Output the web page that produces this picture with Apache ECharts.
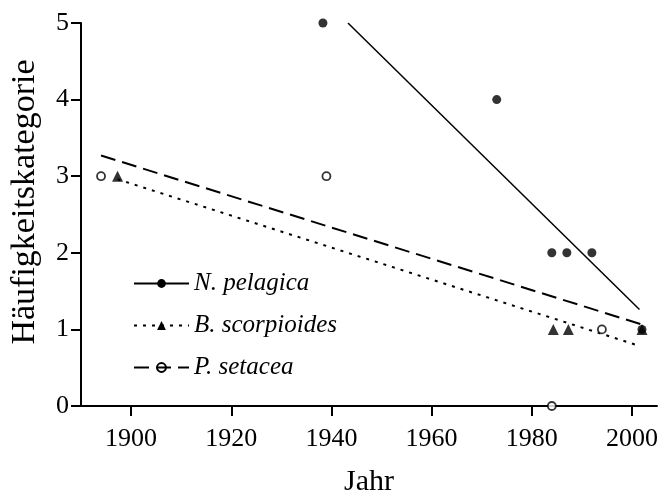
<!DOCTYPE html>
<html><head><meta charset="utf-8">
<script src="https://cdn.jsdelivr.net/npm/echarts@6/dist/echarts.min.js"></script>
<style>html,body{margin:0;padding:0;background:#fff}#c{width:661px;height:495px}</style>
</head><body><div id="c"></div>
<script>
// ---- data ----
const xTicks = [1900, 1920, 1940, 1960, 1980, 2000];
const yTicks = [0, 1, 2, 3, 4, 5];
const speciesNames = ['N. pelagica', 'B. scorpioides', 'P. setacea'];
// observations [year, category]
const nPelagica = [[1938.3, 5], [1973, 4], [1984, 2], [1987, 2], [1992, 2], [2002, 1]];
const bScorpioides = [[1897.3, 3], [1984.3, 1], [1987.3, 1], [2002, 1]];
const pSetacea = [[1894, 3], [1939, 3], [1984, 0], [1994, 1]];
// fitted trend line end points [year, category]
const nTrend = [[1943.3, 5.0], [2001.5, 1.26]];
const bTrend = [[1897.3, 2.96], [2001.7, 0.78]];
const pTrend = [[1894, 3.27], [2001.7, 1.07]];
const xTitle = 'Jahr';
const yTitle = 'Häufigkeitskategorie';

const FONT = '"Liberation Serif", "Times New Roman", serif';
const chart = echarts.init(document.getElementById('c'), null, {renderer: 'canvas'});

chart.setOption({
  animation: false,
  backgroundColor: '#fff',
  grid: {left: 81, right: 4, top: 23, bottom: 89, containLabel: false},
  xAxis: {
    type: 'value', min: 1890, max: 2005,
    splitLine: {show: false},
    axisLine: {show: true, onZero: false, lineStyle: {color: '#000', width: 2}},
    axisTick: {show: true, inside: false, length: 10, customValues: xTicks, lineStyle: {color: '#000', width: 2}},
    axisLabel: {customValues: xTicks, formatter: v => String(v), color: '#000', fontFamily: FONT, fontSize: 26, margin: 20}
  },
  yAxis: {
    type: 'value', min: 0, max: 5, interval: 1,
    splitLine: {show: false},
    axisLine: {show: true, onZero: false, lineStyle: {color: '#000', width: 2}},
    axisTick: {show: true, inside: false, length: 10, lineStyle: {color: '#000', width: 2}},
    axisLabel: {formatter: v => String(v), color: '#000', fontFamily: FONT, fontSize: 26, margin: 12}
  },
  legend: {
    orient: 'vertical', left: 133, top: 271, padding: 0,
    itemWidth: 55, itemHeight: 11, itemGap: 17,
    data: speciesNames,
    selectedMode: false,
    textStyle: {color: '#000', fontFamily: FONT, fontSize: 25, fontStyle: 'italic', lineHeight: 25}
  },
  graphic: [
    {type: 'text', x: 369, y: 482, z: 10,
     style: {text: xTitle, fontFamily: FONT, fontSize: 30, fill: '#000', align: 'center', verticalAlign: 'middle'}},
    {type: 'text', x: 25, y: 202, rotation: Math.PI / 2, z: 10,
     style: {text: yTitle, fontFamily: FONT, fontSize: 34, fill: '#000', align: 'center', verticalAlign: 'middle'}}
  ],
  series: [
    {name: speciesNames[0], type: 'line', data: nTrend, symbol: 'circle', showSymbol: false, z: 2,
     lineStyle: {color: '#000', width: 1.5, type: 'solid'}, itemStyle: {color: '#000'}},
    {name: speciesNames[1], type: 'line', data: bTrend, symbol: 'triangle', showSymbol: false, z: 2,
     lineStyle: {color: '#000', width: 2, type: [3, 6]}, itemStyle: {color: '#000'}},
    {name: speciesNames[2], type: 'line', data: pTrend, symbol: 'circle', showSymbol: false, z: 2,
     lineStyle: {color: '#000', width: 2, type: [15, 7]},
     itemStyle: {color: 'rgba(255,255,255,0)', borderColor: '#000', borderWidth: 1.5}},
    {name: speciesNames[2], type: 'scatter', data: pSetacea, symbol: 'circle', symbolSize: 8, z: 3, clip: false,
     itemStyle: {color: '#fff', borderColor: '#000', borderWidth: 1.8}},
    {name: speciesNames[1], type: 'scatter', data: bScorpioides, symbol: 'triangle', symbolSize: 11, z: 4, clip: false,
     itemStyle: {color: '#000'}},
    {name: speciesNames[0], type: 'scatter', data: nPelagica, symbol: 'circle', symbolSize: 9, z: 5, clip: false,
     itemStyle: {color: '#000'}}
  ]
});
</script>
</body></html>
